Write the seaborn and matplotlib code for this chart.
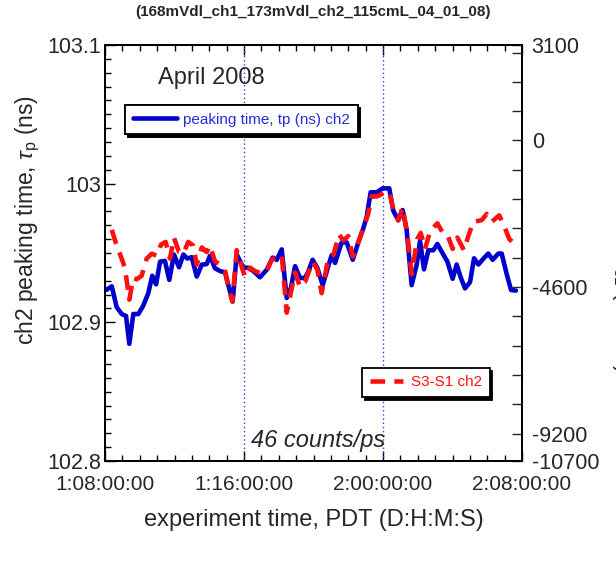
import matplotlib
matplotlib.use("Agg")
import matplotlib.pyplot as plt
import seaborn as sns
import pandas as pd
from matplotlib.ticker import FixedLocator, MultipleLocator, FuncFormatter, NullFormatter

# Elapsed time in hours from day 0, 00:00 PDT
tp_time = [32.06, 32.39, 32.67, 32.96, 33.21, 33.40, 33.63, 33.92, 34.20, 34.49,
           34.72, 34.94, 35.17, 35.45, 35.70, 35.97, 36.26, 36.51, 36.74, 36.99,
           37.28, 37.57, 37.85, 38.04, 38.33, 38.62, 38.91, 39.10, 39.35, 39.58,
           39.96, 40.25, 40.54, 40.92, 41.31, 41.65, 41.88, 42.17, 42.46, 42.69,
           42.94, 43.22, 43.51, 43.68, 43.95, 44.22, 44.53, 44.85, 45.05, 45.24,
           45.62, 45.91, 46.26, 46.58, 46.87, 47.06, 47.29, 47.64, 47.98, 48.36,
           48.59, 48.88, 49.13, 49.36, 49.65, 49.94, 50.13, 50.36, 50.61, 50.90,
           51.13, 51.44, 51.70, 52.01, 52.24, 52.47, 52.72, 53.01, 53.24, 53.49,
           53.77, 54.06, 54.31, 54.64, 54.83, 55.12, 55.37, 55.65]
# ch2 peaking time (ns)
tp_ch2 = [102.9233, 102.9260, 102.9110, 102.9060, 102.9046, 102.8845, 102.9060, 102.9060, 102.9120, 102.9210,
          102.9336, 102.9274, 102.9438, 102.9443, 102.9306, 102.9489, 102.9397, 102.9489, 102.9460, 102.9470,
          102.9330, 102.9416, 102.9420, 102.9480, 102.9390, 102.9370, 102.9360, 102.9267, 102.9150, 102.9490,
          102.9394, 102.9394, 102.9370, 102.9325, 102.9380, 102.9467, 102.9450, 102.9526, 102.9176, 102.9245,
          102.9405, 102.9320, 102.9320, 102.9360, 102.9451, 102.9393, 102.9268, 102.9405, 102.9485, 102.9428,
          102.9577, 102.9577, 102.9451, 102.9577, 102.9680, 102.9760, 102.9938, 102.9938, 102.9966, 102.9966,
          102.9805, 102.9736, 102.9810, 102.9668, 102.9268, 102.9417, 102.9588, 102.9382, 102.9520, 102.9520,
          102.9565, 102.9496, 102.9439, 102.9314, 102.9417, 102.9325, 102.9245, 102.9290, 102.9462, 102.9417,
          102.9458, 102.9496, 102.9451, 102.9496, 102.9496, 102.9348, 102.9233, 102.9229]

s31_time = [32.39, 32.67, 32.96, 33.15, 33.40, 33.63, 33.82, 34.11, 34.40, 34.69,
            34.98, 35.22, 35.49, 35.74, 35.97, 36.26, 36.51, 36.79, 37.08, 37.28,
            37.57, 37.85, 38.04, 38.33, 38.62, 38.91, 39.10, 39.33, 39.58, 39.77,
            40.06, 40.35, 40.63, 41.02, 41.31, 41.59, 41.88, 42.17, 42.46, 42.69,
            42.94, 43.22, 43.51, 43.95, 44.22, 44.47, 44.85, 45.14, 45.48, 45.71,
            46.00, 46.26, 46.58, 46.87, 47.15, 47.35, 47.67, 48.02, 48.36, 48.59,
            48.88, 49.13, 49.40, 49.65, 49.97, 50.17, 50.42, 50.71, 51.13, 51.44,
            51.70, 52.01, 52.28, 52.66, 52.91, 53.20, 53.68, 53.97, 54.26, 54.69,
            55.02, 55.27, 55.47]
# S3-S1 for ch2 (right axis)
s31_ch2 = [-2806, -3302, -3707, -4011, -4996, -4316, -4360, -4246, -3707, -3554,
           -3620, -3271, -3184, -3707, -3054, -3502, -3554, -3184, -3302, -3898,
           -3358, -3502, -3302, -3794, -3898, -4099, -4594, -5056, -3445, -3794,
           -4294, -3994, -4099, -4186, -4099, -3750, -3663, -3598, -5405, -4795,
           -4142, -4594, -4447, -3798, -4055, -4795, -3698, -3598, -2950, -3141,
           -3002, -3646, -3197, -2749, -2305, -1756, -1756, -1656, -1608, -2153,
           -2505, -2104, -2950, -4194, -3097, -2901, -3402, -2849, -2601, -2901,
           -2950, -3402, -3049, -3445, -3002, -2553, -2501, -2305, -2553, -2352,
           -2749, -3097, -3197]

x_range = [32, 56]
x_ticks = [32, 40, 48, 56]
left_range = [102.8, 103.1]
left_ticks = [102.8, 102.9, 103.0, 103.1]
left_tick_labels = ["102.8", "102.9", "103", "103.1"]
right_range = [-10063, 2998]
right_ticks = [-10063, -9200, -4600, 0, 2998]
right_tick_labels = ["-10700", "-9200", "-4600", "0", "3100"]
run_markers = [40, 48]

BLUE = "#0000cc"
RED = "#ff1010"

sns.set_style("ticks")
plt.rcParams["font.family"] = ["Liberation Sans", "DejaVu Sans"]
plt.rcParams["mathtext.fontset"] = "custom"
plt.rcParams["mathtext.rm"] = "Liberation Sans"
plt.rcParams["mathtext.it"] = "Liberation Sans:italic"
plt.rcParams["axes.unicode_minus"] = False

fig = plt.figure(figsize=(6.16, 5.63), dpi=100)
ax = fig.add_axes([105 / 616, 1 - 461 / 563, 417 / 616, 416 / 563])
ax2 = ax.twinx()

tp_df = pd.DataFrame({"time": tp_time, "tp": tp_ch2})
s31_df = pd.DataFrame({"time": s31_time, "s31": s31_ch2})

for xm in run_markers:
    ax.axvline(xm, color="#3a3ae0", lw=1.0, ls=(0, (1, 2)), zorder=1)

sns.lineplot(data=tp_df, x="time", y="tp", ax=ax, color=BLUE, lw=3.3,
             estimator=None, label="peaking time, tp (ns) ch2", legend=False, zorder=3)
sns.lineplot(data=s31_df, x="time", y="s31", ax=ax2, color=RED, lw=3.3,
             estimator=None, label="S3-S1 ch2", legend=False, zorder=4)
ax2.lines[0].set_dashes((3.2, 2.0))

ax.set_xlim(*x_range)
ax.set_ylim(*left_range)
ax2.set_ylim(*right_range)


def dhms(h, pos=None):
    total = int(round(h * 3600))
    d, rem = divmod(total, 86400)
    hh, rem = divmod(rem, 3600)
    mm, ss = divmod(rem, 60)
    return f"{d}:{hh:02d}:{mm:02d}:{ss:02d}"


ax.xaxis.set_major_locator(FixedLocator(x_ticks))
ax.xaxis.set_minor_locator(MultipleLocator(1))
ax.xaxis.set_major_formatter(FuncFormatter(dhms))
ax.yaxis.set_major_locator(FixedLocator(left_ticks))
ax.yaxis.set_major_formatter(
    FuncFormatter(lambda v, p: left_tick_labels[left_ticks.index(round(v, 1))]))
ax.yaxis.set_minor_locator(MultipleLocator(0.01))
ax2.yaxis.set_major_locator(FixedLocator(right_ticks))
ax2.yaxis.set_major_formatter(
    FuncFormatter(lambda v, p: right_tick_labels[min(range(len(right_ticks)),
                                                     key=lambda i: abs(right_ticks[i] - v))]))
ax2.yaxis.set_minor_locator(MultipleLocator(920))
ax2.yaxis.set_minor_formatter(NullFormatter())

ax.tick_params(axis="both", which="both", direction="in", labelsize=15.5, color="black")
ax.tick_params(axis="x", which="both", top=True, pad=10, labelsize=15)
ax.tick_params(axis="y", which="both", right=False, pad=3)
ax.tick_params(which="major", length=7, width=1.0)
ax.tick_params(which="minor", length=4, width=1.0)
ax2.tick_params(axis="y", which="both", direction="in", labelsize=15.5, pad=7, width=1.0)
ax2.tick_params(which="major", length=7)
ax2.tick_params(which="minor", length=7)

for a in (ax, ax2):
    for sp in a.spines.values():
        sp.set_linewidth(1.3)
        sp.set_color("black")
        sp.set_visible(True)

ax.set_xlabel("experiment time, PDT (D:H:M:S)", fontsize=17, labelpad=11)
ax.set_ylabel(r"ch2 peaking time, $\tau_\mathrm{p}$ (ns)", fontsize=16.5)
ax.yaxis.set_label_coords(-0.15, 0.58)
ax2.set_ylabel(r"$\tau_{31}$ (counts)", fontsize=16, rotation=270)
ax2.yaxis.label.set_verticalalignment("bottom")
ax2.yaxis.set_label_coords(1.212, 0.35)

fig.text(313 / 616, 1 - 12 / 563, "(168mVdl_ch1_173mVdl_ch2_115cmL_04_01_08)",
         ha="center", va="center", fontsize=11, fontweight="bold")

ax.text(0.254, 0.92, "April 2008", transform=ax.transAxes, fontsize=17,
        ha="center", va="center")
ax.text(0.51, 0.05, "46 counts/ps", transform=ax.transAxes, fontsize=17,
        ha="center", va="center", style="italic")

shadow = {"color": "black", "alpha": 1.0}
leg1 = ax.legend(handles=ax.lines[-1:], loc="upper left", bbox_to_anchor=(0.048, 0.856),
                 fontsize=11, frameon=True, fancybox=False, shadow=shadow,
                 handlelength=2.9, borderpad=0.5, handletextpad=0.4, borderaxespad=0)
leg1.get_frame().set_edgecolor("black")
leg1.get_frame().set_linewidth(1.3)
for t in leg1.get_texts():
    t.set_color("#2a2ad8")
ax.add_artist(leg1)

leg2 = ax2.legend(handles=ax2.lines[:1], loc="upper left", bbox_to_anchor=(0.616, 0.224),
                  fontsize=11, frameon=True, fancybox=False, shadow=shadow,
                  handlelength=2.2, borderpad=0.5, handletextpad=0.5, borderaxespad=0)
leg2.get_frame().set_edgecolor("black")
leg2.get_frame().set_linewidth(1.3)
for t in leg2.get_texts():
    t.set_color(RED)

fig.savefig("out.png", dpi=100)
